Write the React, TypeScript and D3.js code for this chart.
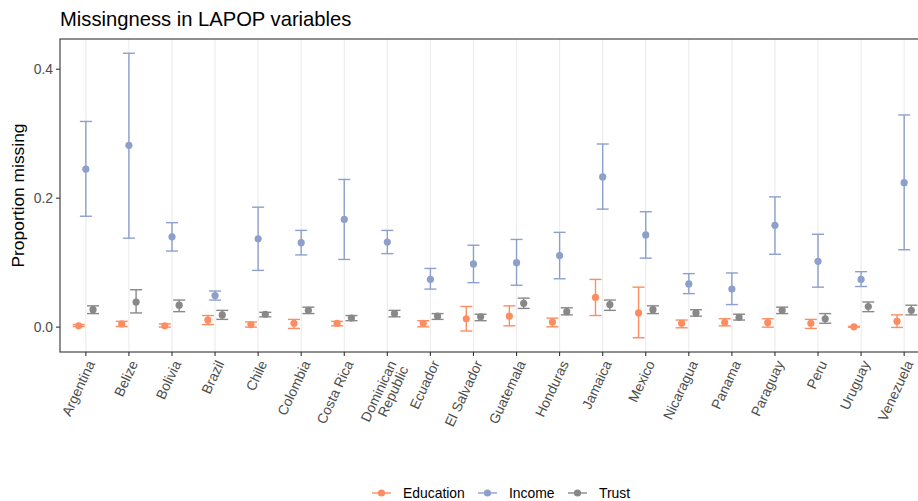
import React from "react";
import * as d3 from "d3";

const W = 918;
const H = 501;
const margin = { top: 39, right: -12, bottom: 149, left: 60 };

const countries = [
  "Argentina", "Belize", "Bolivia", "Brazil", "Chile", "Colombia", "Costa Rica",
  "Dominican\nRepublic", "Ecuador", "El Salvador", "Guatemala", "Honduras", "Jamaica",
  "Mexico", "Nicaragua", "Panama", "Paraguay", "Peru", "Uruguay", "Venezuela",
];

const variables = ["Education", "Income", "Trust"];
const colors = ["#FC8D62", "#8DA0CB", "#888888"];
const yTicks = [0, 0.2, 0.4];

// estimate, lower, upper (null = not measured)
const education = [
  [0.002, 0.001, 0.004], [0.005, 0.001, 0.009], [0.002, 0.0, 0.005], [0.011, 0.004, 0.018],
  [0.004, 0.0, 0.008], [0.006, -0.002, 0.012], [0.006, 0.002, 0.009], null,
  [0.006, 0.0005, 0.010], [0.013, -0.006, 0.032], [0.017, 0.002, 0.033], [0.008, 0.0005, 0.014],
  [0.046, 0.018, 0.074], [0.022, -0.0165, 0.062], [0.006, -0.001, 0.011], [0.007, 0.002, 0.013],
  [0.007, 0.0, 0.013], [0.006, -0.002, 0.012], [0.0005, 0.0, 0.001], [0.009, -0.0005, 0.019],
];
const income = [
  [0.245, 0.172, 0.319], [0.282, 0.138, 0.4248], [0.140, 0.118, 0.162], [0.049, 0.042, 0.056],
  [0.137, 0.088, 0.186], [0.131, 0.112, 0.150], [0.167, 0.105, 0.229], [0.132, 0.114, 0.150],
  [0.074, 0.059, 0.091], [0.098, 0.069, 0.127], [0.100, 0.065, 0.136], [0.111, 0.075, 0.147],
  [0.233, 0.183, 0.284], [0.143, 0.107, 0.179], [0.067, 0.052, 0.083], [0.059, 0.035, 0.084],
  [0.158, 0.113, 0.202], [0.102, 0.062, 0.144], [0.074, 0.063, 0.086], [0.224, 0.120, 0.329],
];
const trust = [
  [0.027, 0.021, 0.033], [0.039, 0.022, 0.058], [0.034, 0.024, 0.042], [0.019, 0.012, 0.026],
  [0.020, 0.016, 0.023], [0.026, 0.021, 0.031], [0.014, 0.010, 0.018], [0.021, 0.016, 0.026],
  [0.017, 0.012, 0.021], [0.016, 0.010, 0.020], [0.037, 0.029, 0.045], [0.024, 0.019, 0.030],
  [0.035, 0.026, 0.042], [0.027, 0.021, 0.033], [0.022, 0.017, 0.027], [0.015, 0.011, 0.020],
  [0.026, 0.021, 0.031], [0.013, 0.006, 0.021], [0.032, 0.024, 0.039], [0.026, 0.019, 0.034],
];

const series = [education, income, trust];

const rows = series.flatMap((s, vi) =>
  s.map((d, ci) => (d ? { ci, vi, est: d[0], lo: d[1], hi: d[2] } : null)).filter(Boolean)
) as { ci: number; vi: number; est: number; lo: number; hi: number }[];

const font = "'Liberation Sans', Arial, Helvetica, sans-serif";

export default function App() {
  const x0 = margin.left;
  const x1 = W - margin.right;
  const y0 = margin.top;
  const y1 = H - margin.bottom;

  const x = d3.scalePoint<number>().domain(d3.range(countries.length)).range([x0, x1]).padding(0.6);
  const step = x.step();
  const dodge = d3.scalePoint<number>().domain([0, 1, 2]).range([-step / 6, step / 6]);

  const lo = d3.min(rows, (d) => d.lo) as number;
  const hi = d3.max(rows, (d) => d.hi) as number;
  const pad = (hi - lo) * 0.05;
  const y = d3.scaleLinear().domain([lo - pad, hi + pad]).range([y1, y0]);

  const capW = 6;

  return (
    <svg width={W} height={H} style={{ position: "absolute", left: 0, top: 0, background: "#fff" }} fontFamily={font}>
      <text x={x0} y={26} fontSize={20.2} fill="#000">Missingness in LAPOP variables</text>

      {/* vertical grid */}
      {countries.map((c, i) => (
        <line key={"g" + i} x1={x(i)} x2={x(i)} y1={y0} y2={y1} stroke="#EBEBEB" strokeWidth={1.1} />
      ))}

      {rows.map((d, k) => {
        const cx = (x(d.ci) as number) + (dodge(d.vi) as number);
        const col = colors[d.vi];
        return (
          <g key={"e" + k} stroke={col} strokeWidth={1.4}>
            <line x1={cx} x2={cx} y1={y(d.lo)} y2={y(d.hi)} />
            <line x1={cx - capW} x2={cx + capW} y1={y(d.lo)} y2={y(d.lo)} />
            <line x1={cx - capW} x2={cx + capW} y1={y(d.hi)} y2={y(d.hi)} />
            <circle cx={cx} cy={y(d.est)} r={3.6} fill={col} stroke="none" />
          </g>
        );
      })}

      <rect x={x0} y={y0} width={x1 - x0} height={y1 - y0} fill="none" stroke="#333333" strokeWidth={1.1} />

      {/* y axis */}
      {yTicks.map((t) => (
        <g key={"y" + t}>
          <line x1={x0 - 4} x2={x0} y1={y(t)} y2={y(t)} stroke="#333333" strokeWidth={1.1} />
          <text x={x0 - 7} y={y(t)} dy="0.35em" textAnchor="end" fontSize={13.9} fill="#4D4D4D">
            {d3.format(".1f")(t)}
          </text>
        </g>
      ))}
      <text transform={`translate(24,${(y0 + y1) / 2}) rotate(-90)`} textAnchor="middle" fontSize={17.4} fill="#000">
        Proportion missing
      </text>

      {/* x axis */}
      {countries.map((c, i) => {
        const lines = c.split("\n");
        return (
          <g key={"x" + i}>
            <line x1={x(i)} x2={x(i)} y1={y1} y2={y1 + 4} stroke="#333333" strokeWidth={1.1} />
            <text transform={`translate(${x(i)},${y1 + 7}) rotate(-65)`} textAnchor="end" fontSize={13.9} fill="#4D4D4D">
              {lines.map((l, li) => (
                <tspan key={li} x={0} dy={li === 0 ? "0.75em" : "0.95em"}>{l}</tspan>
              ))}
            </text>
          </g>
        );
      })}

      {/* legend */}
      {variables.map((v, i) => {
        const lx = [372, 478, 568][i];
        return (
          <g key={"l" + v} transform={`translate(${lx},493)`}>
            <line x1={0} x2={19} y1={0} y2={0} stroke={colors[i]} strokeWidth={1.4} />
            <circle cx={9.5} cy={0} r={3.6} fill={colors[i]} />
            <text x={31} y={0} dy="0.35em" fontSize={13.9} fill="#000">{v}</text>
          </g>
        );
      })}
    </svg>
  );
}
